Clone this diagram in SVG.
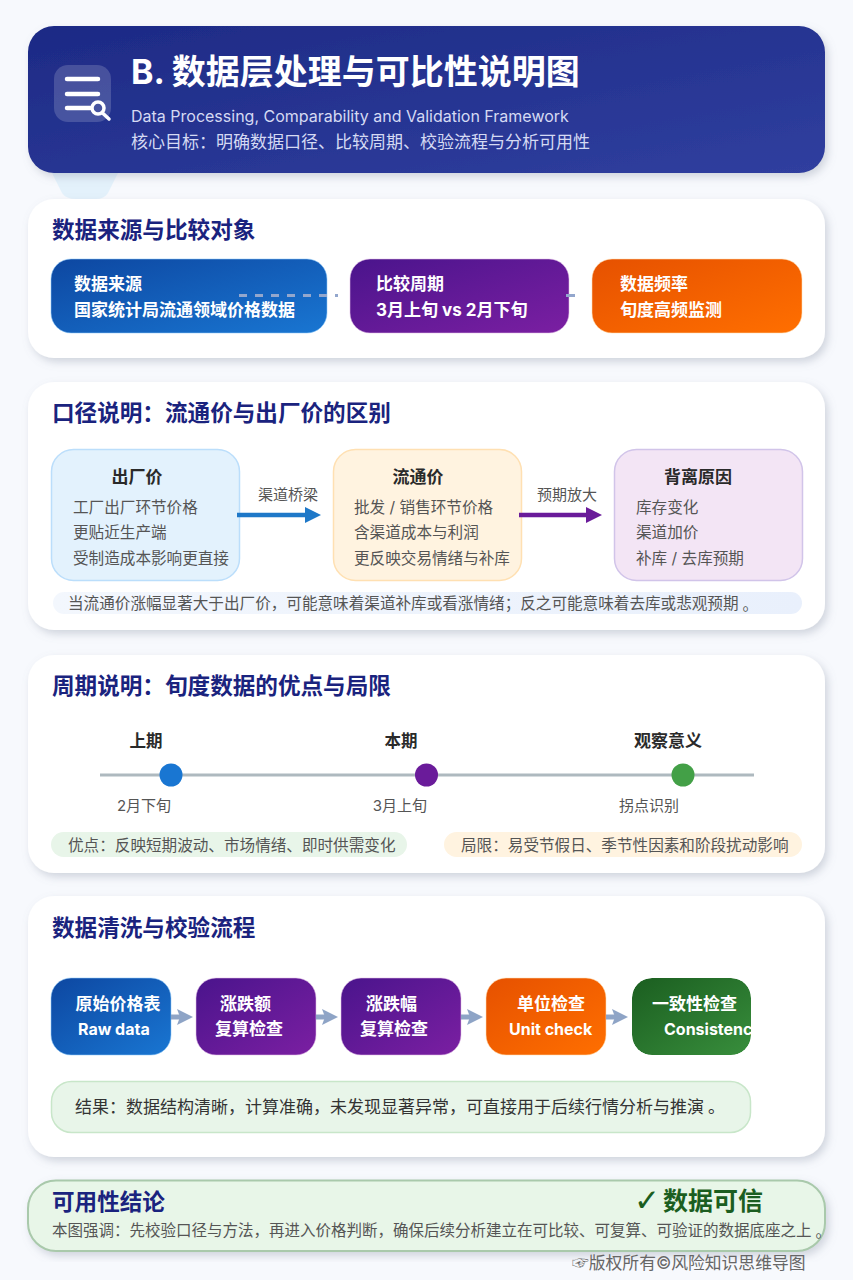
<svg xmlns="http://www.w3.org/2000/svg" width="853" height="1280" viewBox="0 0 853 1280">
<style>
text{font-family:"Inter","Noto Sans CJK SC","Noto Sans",sans-serif;dominant-baseline:central}
.h2{font-size:22.6px;font-weight:700;fill:#1a237e}
.w{font-size:17px;font-weight:700;fill:#fff}
.en{font-size:16px}
.t{font-size:17px;font-weight:700;fill:#2a2a2a;text-anchor:middle}
.s{font-size:16.500px}
.b{font-size:15.600px;fill:#555}
.lab{font-size:15px;fill:#555;text-anchor:middle}
.card{fill:#fff;filter:url(#sh)}
.bd{stroke-width:1;stroke-opacity:.55}
</style>
<defs>
<linearGradient id="gH" x1="0" y1="0" x2="1" y2="1"><stop offset="0" stop-color="#1d2a85"/><stop offset="1" stop-color="#303f9f"/></linearGradient>
<linearGradient id="gB" x1="0" y1="0" x2="1" y2="1"><stop offset="0" stop-color="#0d47a1"/><stop offset="1" stop-color="#1976d2"/></linearGradient>
<linearGradient id="gP" x1="0" y1="0" x2="1" y2="1"><stop offset="0" stop-color="#4a148c"/><stop offset="1" stop-color="#7b1fa2"/></linearGradient>
<linearGradient id="gO" x1="0" y1="0" x2="1" y2="1"><stop offset="0" stop-color="#e65100"/><stop offset="1" stop-color="#ff6f00"/></linearGradient>
<linearGradient id="gG" x1="0" y1="0" x2="1" y2="1"><stop offset="0" stop-color="#1b5e20"/><stop offset="1" stop-color="#388e3c"/></linearGradient>
<linearGradient id="gN" x1="0" y1="0" x2="1" y2="0"><stop offset="0" stop-color="#f3f7fd"/><stop offset="1" stop-color="#e9f0fc"/></linearGradient>
<filter id="sh" x="-5%" y="-10%" width="110%" height="125%"><feDropShadow dx="3" dy="4" stdDeviation="4" flood-color="#7f8a9c" flood-opacity=".33"/></filter>
<clipPath id="c5"><rect x="632" y="978" width="119" height="77" rx="20"/></clipPath>
</defs>
<rect width="853" height="1280" fill="#f7f9fd"/>

<g id="tail"><path d="M52 173H118L108 193Q104 199 96 199H76Q66 199 62 193Z" fill="#e3f1fb"/></g>
<g id="header">
<rect x="28" y="26" width="797" height="147" rx="26" fill="url(#gH)" filter="url(#sh)"/>
<rect x="54" y="65" width="57" height="57" rx="14" fill="#fff" opacity=".17"/>
<path d="M67 79H98M67 94H98M67 108H90" stroke="#fff" stroke-width="4.500" stroke-linecap="round" fill="none"/>
<circle cx="98" cy="108" r="6" fill="none" stroke="#fff" stroke-width="3.500"/>
<path d="M102.500 113L109 119" stroke="#fff" stroke-width="3.500" stroke-linecap="round"/>
<text x="131" y="71" font-size="34" font-weight="700" fill="#fff">B. 数据层处理与可比性说明图</text>
<text x="131" y="116" font-size="16" fill="#d5daf3">Data Processing, Comparability and Validation Framework</text>
<text x="131" y="142" font-size="17" fill="#d5daf3">核心目标：明确数据口径、比较周期、校验流程与分析可用性</text>
</g>

<g id="card-source">
<rect class="card" x="28" y="199" width="797" height="159" rx="26"/>
<text class="h2" x="52" y="229">数据来源与比较对象</text>
</g>
<g id="src1"><rect class="bd" x="51" y="259" width="276" height="74" rx="20" fill="url(#gB)" stroke="#90caf9"/><text class="w" x="74" y="284">数据来源</text><text class="w" x="74" y="310">国家统计局流通领域价格数据</text></g>
<g id="src2"><rect class="bd" x="350" y="259" width="219" height="74" rx="20" fill="url(#gP)" stroke="#e1bee7"/><text class="w" x="376" y="284">比较周期</text><text class="w" x="376" y="310">3月上旬 vs 2月下旬</text></g>
<g id="src3"><rect class="bd" x="592" y="259" width="210" height="74" rx="20" fill="url(#gO)" stroke="#ffe0b2"/><text class="w" x="620" y="284">数据频率</text><text class="w" x="620" y="310">旬度高频监测</text></g>

<g id="card-scope">
<rect class="card" x="28" y="382" width="797" height="248" rx="26"/>
<text class="h2" x="52" y="412">口径说明：流通价与出厂价的区别</text>
<rect x="53" y="592" width="749" height="22" rx="11" fill="url(#gN)"/>
<text class="b" x="68" y="603.500">当流通价涨幅显著大于出厂价，可能意味着渠道补库或看涨情绪；反之可能意味着去库或悲观预期<tspan dx="4">。</tspan></text>
</g>
<g id="factory"><rect x="51.500" y="449.500" width="188" height="131" rx="22" fill="#e3f2fd" stroke="#bbdefb" stroke-width="1.500"/><text class="t" x="137" y="477">出厂价</text><text class="b" x="73" y="507">工厂出厂环节价格</text><text class="b" x="73" y="532.500">更贴近生产端</text><text class="b" x="73" y="558">受制造成本影响更直接</text></g>
<g id="circulation"><rect x="333.500" y="449.500" width="188" height="131" rx="22" fill="#fff3e0" stroke="#ffe0b2" stroke-width="1.500"/><text class="t" x="418" y="477">流通价</text><text class="b" x="354" y="507">批发 / 销售环节价格</text><text class="b" x="354" y="532.500">含渠道成本与利润</text><text class="b" x="354" y="558">更反映交易情绪与补库</text></g>
<g id="reason"><rect x="614.500" y="449.500" width="188" height="131" rx="22" fill="#f3e5f5" stroke="#d1c4e9" stroke-width="1.500"/><text class="t" x="698" y="477">背离原因</text><text class="b" x="636" y="507">库存变化</text><text class="b" x="636" y="532.500">渠道加价</text><text class="b" x="636" y="558">补库 / 去库预期</text></g>

<g id="card-period">
<rect class="card" x="28" y="655" width="797" height="218" rx="26"/>
<text class="h2" x="52" y="685">周期说明：旬度数据的优点与局限</text>
<rect x="51" y="832" width="356" height="25" rx="12.500" fill="#e8f5e9"/>
<text class="b" x="68" y="845">优点：反映短期波动、市场情绪、即时供需变化</text>
<rect x="444" y="832" width="358" height="25" rx="12.500" fill="#fff3e0"/>
<text class="b" x="461" y="845">局限：易受节假日、季节性因素和阶段扰动影响</text>
</g>
<g id="timeline"><path d="M100 775H754" stroke="#aeb9bf" stroke-width="3"/></g>
<g id="t1"><circle cx="171" cy="775" r="11.500" fill="#1976d2"/><text class="t s" x="146" y="741">上期</text><text class="lab" x="144" y="805">2月下旬</text></g>
<g id="t2"><circle cx="426.500" cy="775" r="11.500" fill="#6a1b9a"/><text class="t s" x="401" y="741">本期</text><text class="lab" x="400" y="805">3月上旬</text></g>
<g id="t3"><circle cx="683" cy="775" r="11.500" fill="#43a047"/><text class="t" x="668" y="741">观察意义</text><text class="lab" x="649" y="805">拐点识别</text></g>

<g id="card-flow">
<rect class="card" x="28" y="896" width="797" height="261" rx="26"/>
<text class="h2" x="52" y="927">数据清洗与校验流程</text>
<rect x="51.500" y="1081.500" width="699" height="51" rx="20" fill="#e8f5e9" stroke="#c8e6c9" stroke-width="1.500"/>
<text x="75" y="1107" font-size="17" fill="#333">结果：数据结构清晰，计算准确，未发现显著异常，可直接用于后续行情分析与推演<tspan dx="4">。</tspan></text>
</g>
<g id="f1"><rect class="bd" x="51" y="978" width="120" height="77" rx="20" fill="url(#gB)" stroke="#90caf9"/><text class="w" x="75.500" y="1004">原始价格表</text><text class="w en" x="78" y="1029">Raw data</text></g>
<g id="f2"><rect class="bd" x="196" y="978" width="120" height="77" rx="20" fill="url(#gP)" stroke="#e1bee7"/><text class="w" x="220" y="1004">涨跌额</text><text class="w" x="215" y="1029">复算检查</text></g>
<g id="f3"><rect class="bd" x="341" y="978" width="120" height="77" rx="20" fill="url(#gP)" stroke="#e1bee7"/><text class="w" x="366" y="1004">涨跌幅</text><text class="w" x="360" y="1029">复算检查</text></g>
<g id="f4"><rect class="bd" x="486" y="978" width="120" height="77" rx="20" fill="url(#gO)" stroke="#ffe0b2"/><text class="w" x="517" y="1004">单位检查</text><text class="w en" x="509" y="1029">Unit check</text></g>
<g id="f5" clip-path="url(#c5)"><rect x="632" y="978" width="119" height="77" rx="20" fill="url(#gG)"/><text class="w" x="652" y="1004">一致性检查</text><text class="w en" x="664" y="1029">Consistency</text></g>

<g id="connectors">
<path d="M239 295.500H338" stroke="#93a7cd" stroke-width="3" stroke-dasharray="8 8" fill="none"/>
<path d="M566 295.500H575" stroke="#93a7cd" stroke-width="3" fill="none"/>
<g fill="none" stroke-width="4.500">
<path d="M237 515H308" stroke="#1e78c8"/>
<path d="M519 515H589" stroke="#6a1b9a"/>
</g>
<path d="M305 507L321 515L305 523Z" fill="#1e78c8"/>
<path d="M586 507L602 515L586 523Z" fill="#6a1b9a"/>
<text class="lab" x="288" y="494">渠道桥梁</text>
<text class="lab" x="567" y="494">预期放大</text>
<g stroke="#8ea4c6" stroke-width="5" fill="none"><path d="M171 1017H182"/><path d="M316 1017H327"/><path d="M461 1017H472"/><path d="M606 1017H616"/></g>
<g fill="#8ea4c6"><path d="M177 1009L193 1017L177 1025L180 1017Z"/><path d="M322 1009L338 1017L322 1025L325 1017Z"/><path d="M467 1009L483 1017L467 1025L470 1017Z"/><path d="M612 1009L628 1017L612 1025L615 1017Z"/></g>
</g>

<g id="conclusion">
<rect x="28" y="1180.500" width="797" height="70.500" rx="28" fill="#e8f6e8" stroke="#a9c9ab" stroke-width="2" filter="url(#sh)"/>
<text class="h2" x="52" y="1201">可用性结论</text>
<text x="634" y="1200" font-size="31" style="font-family:'DejaVu Sans',sans-serif" fill="#1b5e20">✓</text>
<text x="663" y="1201" font-size="25" font-weight="700" fill="#1b5e20">数据可信</text>
<text class="b" x="52" y="1230.500" style="font-size:15.500px">本图强调：先校验口径与方法，再进入价格判断，确保后续分析建立在可比较、可复算、可验证的数据底座之上<tspan dx="4">。</tspan></text>
</g>
<text x="572" y="1263" font-size="16.800" fill="#666">☞版权所有©风险知识思维导图</text>
</svg>
